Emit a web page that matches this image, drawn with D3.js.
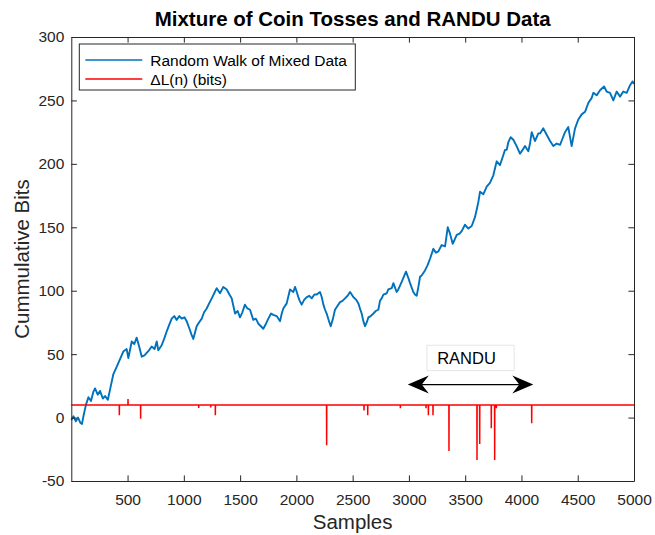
<!DOCTYPE html>
<html>
<head>
<meta charset="utf-8">
<script src="https://cdn.jsdelivr.net/npm/d3@7/dist/d3.min.js"></script>
<style>
  body { margin: 0; background: #fff; }
  text { font-family: "Liberation Sans", Arial, Helvetica, sans-serif; }
</style>
</head>
<body>
<div id="chart"></div>
<script>
// random walk (sample, cumulative bits)
const walkSamples = [0,20,40,60,80,95,110,130,152,175,195,211,235,255,280,300,325,344,373,403,433,462,492,507,537,560,581,600,626,650,670,690,714,740,759,773,803,825,848,870,892,915,936,960,981,1005,1025,1050,1070,1084,1114,1135,1159,1180,1203,1225,1248,1270,1292,1321,1351,1381,1405,1425,1455,1478,1499,1520,1543,1565,1588,1617,1640,1662,1685,1706,1730,1751,1775,1795,1825,1855,1870,1884,1914,1930,1943,1973,1988,2000,2017,2030,2047,2070,2092,2115,2136,2160,2181,2210,2225,2240,2255,2269,2290,2305,2325,2343,2365,2388,2410,2432,2455,2477,2506,2530,2551,2565,2580,2595,2610,2625,2640,2660,2684,2705,2728,2743,2758,2773,2803,2817,2847,2862,2891,2906,2936,2960,2974,2995,3010,3039,3054,3069,3084,3099,3113,3143,3165,3187,3217,3240,3262,3291,3321,3345,3365,3389,3405,3425,3450,3469,3498,3528,3558,3587,3605,3617,3632,3661,3691,3720,3750,3780,3809,3839,3854,3869,3883,3904,3928,3957,3987,4010,4031,4061,4076,4091,4120,4150,4165,4194,4224,4254,4283,4313,4343,4365,4387,4416,4446,4476,4505,4535,4565,4594,4624,4639,4668,4698,4734,4757,4787,4816,4846,4876,4905,4935,4965,4988,5000];
const walkValues = [-2,1,-3,0,-4,-5,2,10,16,13,20,23,18,21,15,17,14,22,34,40,46,52,54,47,60,58,63,57,48,49,51,53,56,54,60,53,57,62,68,73,78,80,77,80,78,79,76,70,65,62,72,75,78,83,86,90,94,98,102,98,103,101,97,94,82,84,79,83,89,86,85,77,78,74,72,70,74,78,82,81,80,76,82,86,90,96,101,99,103,100,95,92,89,93,95,96,94,97,97,99,95,89,85,82,76,72,78,85,88,91,92,94,96,99,95,93,90,86,82,76,72,75,79,80,82,84,85,92,94,97,98,101,102,106,99,101,107,112,115,110,106,99,97,96,103,111,112,116,120,125,133,130,131,136,135,150,145,137,140,144,145,147,152,149,151,158,165,170,178,176,182,185,191,202,199,207,211,211,217,221,219,214,208,211,214,210,216,225,218,224,224,228,223,218,214,216,215,220,225,229,214,228,235,239,241,248,252,256,254,258,261,257,256,250,257,253,257,256,262,265,263];

// ΔL(n) in bits: flat at 10 apart from these samples
const deltaBase = 10;
const spikeSamples = [427,504,616,1132,1239,1280,2269,2601,2634,2924,3152,3173,3214,3356,3605,3629,3732,3762,3777,4091];
const spikeValues  = [1.8,14.7,-0.9,7.6,7.9,1.8,-21.9,5.5,1.8,7.3,7.3,1.8,1.8,-26.3,-33.4,-20.8,-8.5,-33.4,7.3,-4.5];

const xTicks = [500,1000,1500,2000,2500,3000,3500,4000,4500,5000];
const yTicks = [-50,0,50,100,150,200,250,300];

const seriesNames = ["Random Walk of Mixed Data", "\u0394L(n) (bits)"];
const seriesColors = ["#0072BD", "#FF0000"];

const W = 655, H = 535;
const margin = {top: 37, right: 21, bottom: 54, left: 71.3};
const width = W - margin.left - margin.right,
      height = H - margin.top - margin.bottom;
const axisColor = "#262626";

const svg = d3.select("#chart").append("svg")
    .attr("width", W).attr("height", H);

const g = svg.append("g")
    .attr("transform", `translate(${margin.left},${margin.top})`);

const x = d3.scaleLinear().domain([0, 5000]).range([0, width]);
const y = d3.scaleLinear().domain([-50, 300]).range([height, 0]);

// lines
const walk = walkSamples.map((s, i) => [s, walkValues[i]]);
const delta = [[0, deltaBase]];
spikeSamples.forEach(function(s, i) {
  delta.push([s - 1, deltaBase], [s, spikeValues[i]], [s + 1, deltaBase]);
});
delta.push([5000, deltaBase]);

const line = d3.line().x(d => x(d[0])).y(d => y(d[1]));

g.append("path").datum(walk)
  .attr("fill", "none").attr("stroke", seriesColors[0])
  .attr("stroke-width", 1.9).attr("stroke-linejoin", "round")
  .attr("d", line);

g.append("path").datum(delta)
  .attr("fill", "none").attr("stroke", seriesColors[1])
  .attr("stroke-width", 1.5)
  .attr("d", line);

// axes, ticks point inward on all four sides
const tick = 5.6;
const plain = d => String(d);
function styleAxis(sel) {
  sel.select(".domain").attr("stroke", axisColor);
  sel.selectAll(".tick line").attr("stroke", axisColor);
  sel.selectAll(".tick text").attr("fill", axisColor)
    .style("font-size", "15.5px");
}

g.append("g").attr("transform", `translate(0,${height})`)
  .call(d3.axisBottom(x).tickValues(xTicks).tickSize(-tick).tickSizeOuter(0).tickPadding(13).tickFormat(plain))
  .call(styleAxis);
g.append("g")
  .call(d3.axisTop(x).tickValues(xTicks).tickSize(-tick).tickSizeOuter(0).tickFormat(""))
  .call(styleAxis);
g.append("g")
  .call(d3.axisLeft(y).tickValues(yTicks).tickSize(-tick).tickSizeOuter(0).tickPadding(7).tickFormat(plain))
  .call(styleAxis);
g.append("g").attr("transform", `translate(${width},0)`)
  .call(d3.axisRight(y).tickValues(yTicks).tickSize(-tick).tickSizeOuter(0).tickFormat(""))
  .call(styleAxis);

// title and labels
svg.append("text")
  .attr("x", margin.left + width / 2).attr("y", 26)
  .attr("text-anchor", "middle")
  .style("font-size", "20.5px").style("font-weight", "bold")
  .attr("fill", "#000")
  .text("Mixture of Coin Tosses and RANDU Data");

svg.append("text")
  .attr("x", margin.left + width / 2).attr("y", 529)
  .attr("text-anchor", "middle")
  .style("font-size", "20.5px").attr("fill", axisColor)
  .text("Samples");

svg.append("text")
  .attr("transform", `translate(29,${margin.top + height / 2}) rotate(-90)`)
  .attr("text-anchor", "middle")
  .style("font-size", "20.5px").attr("fill", axisColor)
  .text("Cummulative Bits");

// legend
const legend = g.append("g").attr("transform", "translate(8,7)");
legend.append("rect")
  .attr("width", 276).attr("height", 46)
  .attr("fill", "#fff").attr("stroke", axisColor).attr("stroke-width", 1);
seriesNames.forEach(function(name, i) {
  const ly = 16 + i * 19;
  legend.append("line")
    .attr("x1", 6).attr("x2", 63).attr("y1", ly).attr("y2", ly)
    .attr("stroke", seriesColors[i]).attr("stroke-width", 1.5);
  legend.append("text")
    .attr("x", 71).attr("y", ly).attr("dy", "0.36em")
    .style("font-size", "15.5px").attr("fill", "#000")
    .text(name);
});

// RANDU annotation: text box and double arrow, placed in data units
const randuBox = {x0: 3160, x1: 3935, y0: 57, y1: 37};
const randuArrow = {x0: 2990, x1: 4105, y: 26};

g.append("rect")
  .attr("x", x(randuBox.x0)).attr("y", y(randuBox.y0))
  .attr("width", x(randuBox.x1) - x(randuBox.x0))
  .attr("height", y(randuBox.y1) - y(randuBox.y0))
  .attr("fill", "#fff").attr("stroke", "#e6e6e6").attr("stroke-width", 1);
g.append("text")
  .attr("x", (x(randuBox.x0) + x(randuBox.x1)) / 2 - 4)
  .attr("y", (y(randuBox.y0) + y(randuBox.y1)) / 2).attr("dy", "0.36em")
  .attr("text-anchor", "middle")
  .style("font-size", "16.5px").attr("fill", "#000")
  .text("RANDU");

const ax0 = x(randuArrow.x0), ax1 = x(randuArrow.x1), ay = y(randuArrow.y);
const hl = 21, hw = 9, notch = 14;
g.append("line")
  .attr("x1", ax0 + notch).attr("x2", ax1 - notch)
  .attr("y1", ay).attr("y2", ay)
  .attr("stroke", "#000").attr("stroke-width", 1.2);
g.append("path")
  .attr("d", `M${ax0},${ay} L${ax0 + hl},${ay - hw} L${ax0 + notch},${ay} L${ax0 + hl},${ay + hw} Z`)
  .attr("fill", "#000");
g.append("path")
  .attr("d", `M${ax1},${ay} L${ax1 - hl},${ay - hw} L${ax1 - notch},${ay} L${ax1 - hl},${ay + hw} Z`)
  .attr("fill", "#000");
</script>
</body>
</html>
